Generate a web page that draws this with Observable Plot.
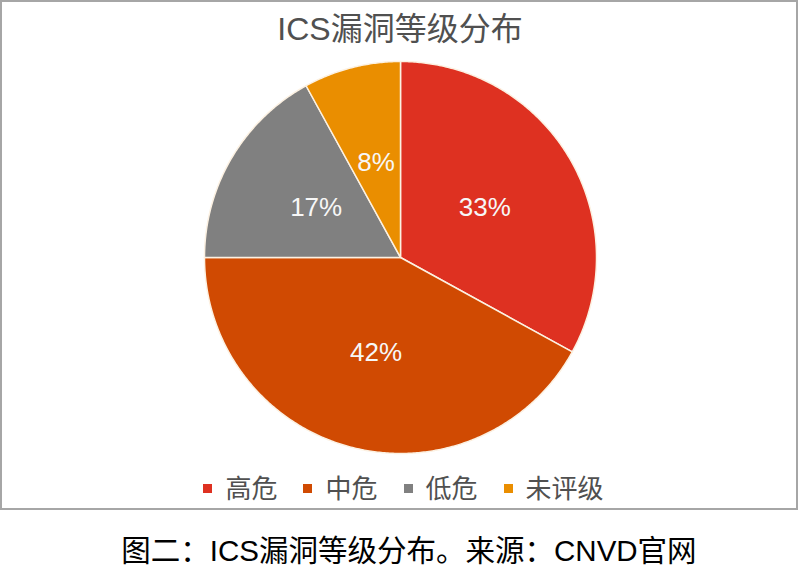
<!DOCTYPE html>
<html>
<head>
<meta charset="utf-8">
<script src="https://cdn.jsdelivr.net/npm/d3@7"></script>
<script src="https://cdn.jsdelivr.net/npm/@observablehq/plot@0.6"></script>
<style>
  html, body { margin: 0; padding: 0; background: #fff; }
  body { width: 800px; height: 572px; position: relative; overflow: hidden;
         font-family: "Liberation Sans", "Noto Sans CJK SC", sans-serif; }
  #frame { position: absolute; left: 0; top: 0; width: 794px; height: 506px;
           border: 2px solid #a6a6a6; }
  #title { position: absolute; left: 0; top: 10px; width: 800px; text-align: center;
           font-size: 32px; line-height: 38px; color: #505050; }
  #chart { position: absolute; left: 0; top: 0; }
  #legend { position: absolute; left: 0; top: 472px; width: 800px;
            padding-left: 7px; box-sizing: border-box; line-height: 30px; }
  #legend > div { display: flex !important; justify-content: center !important; width: 100%; }
  #legend > div > span:last-child { margin-right: 0 !important; }
  #caption { position: absolute; left: 0; top: 533px; width: 800px; text-align: center;
             padding-left: 18px; box-sizing: border-box;
             font-size: 29.5px; line-height: 35px; color: #000; }
</style>
</head>
<body>
<div id="frame"></div>
<div id="chart"></div>
<div id="title">ICS漏洞等级分布</div>
<div id="legend"></div>
<div id="caption">图二：ICS漏洞等级分布。来源：CNVD官网</div>
<script>
// ---- data ----
const categories = ["高危", "中危", "低危", "未评级"];
const values = [33, 42, 17, 8];
const colors = ["#de3121", "#d04a02", "#808080", "#ea8e00"];
const titleText = "ICS漏洞等级分布";

// ---- geometry ----
const cx = 400, cy = 257, r = 196;
const data = categories.map((c, i) => ({category: c, value: values[i]}));
const arcs = d3.pie().sort(null).value(d => d.value)(data);

// slice outlines derived from pie angles
const outline = [];
for (const a of arcs) {
  const key = a.data.category;
  outline.push({key, x: 0, y: 0});
  const step = Math.PI / 360;
  const n = Math.max(2, Math.ceil((a.endAngle - a.startAngle) / step));
  for (let k = 0; k <= n; k++) {
    const t = a.startAngle + (a.endAngle - a.startAngle) * k / n;
    outline.push({key, x: Math.sin(t), y: Math.cos(t)});
  }
  outline.push({key, x: 0, y: 0});
}

const labelPos = arcs.map(a => {
  const m = (a.startAngle + a.endAngle) / 2;
  return {key: a.data.category, text: a.data.value + "%", x: 0.5 * Math.sin(m), y: 0.5 * Math.cos(m)};
});

const colorScale = {domain: categories, range: colors};

const chart = Plot.plot({
  width: 800,
  height: 510,
  margin: 0,
  style: {background: "transparent", fontFamily: "'Liberation Sans', 'Noto Sans CJK SC', sans-serif", overflow: "visible"},
  x: {domain: [-1, 1], range: [cx - r, cx + r], axis: null},
  y: {domain: [-1, 1], range: [cy + r, cy - r], axis: null},
  color: colorScale,
  marks: [
    Plot.line(outline, {x: "x", y: "y", z: "key", fill: "key", stroke: "#fcf1e2", strokeWidth: 1.5, curve: "linear", strokeLinejoin: "round"}),
    Plot.text(labelPos, {x: "x", y: "y", text: "text", fill: "#f7f7f7", fontSize: 26})
  ]
});
document.getElementById("chart").appendChild(chart);

const legend = Plot.legend({
  color: colorScale,
  legend: "swatches",
  swatchSize: 9,
  style: {fontSize: "26px", color: "#505050", fontFamily: "'Liberation Sans', 'Noto Sans CJK SC', sans-serif", marginBottom: "0"}
});
document.getElementById("legend").appendChild(legend);
</script>
</body>
</html>
